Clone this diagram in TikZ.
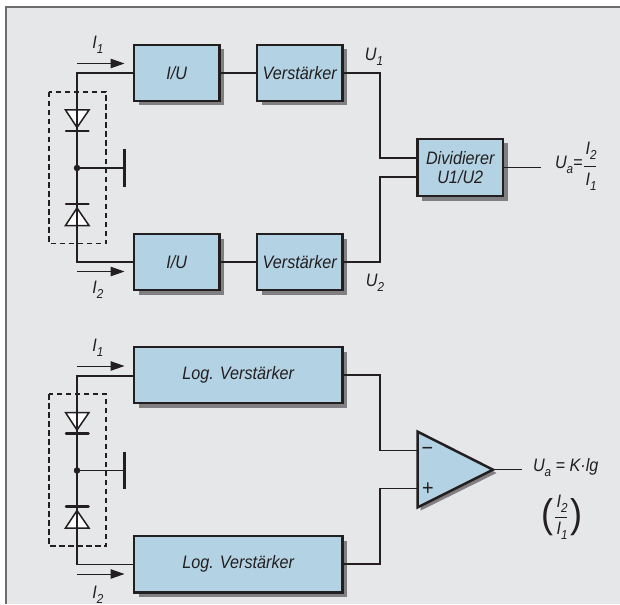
\documentclass[tikz,border=0pt]{standalone}
\usepackage{fontspec}
\setmainfont[FakeStretch=0.9]{Liberation Sans}
\usetikzlibrary{arrows.meta}
\definecolor{panel}{RGB}{229,231,233}
\definecolor{boxblue}{RGB}{179,210,227}
\definecolor{ink}{RGB}{35,31,32}
\definecolor{shadowgray}{RGB}{128,128,130}
\newcommand{\subs}[1]{\raisebox{-0.28em}{\fontsize{13}{13}\selectfont #1}}
\tikzset{
  x=1pt,y=-1pt,
  wire/.style={draw=ink,line width=1.5pt,line join=miter},
  blockbox/.style={draw=ink,line width=2.5pt,fill=boxblue,rectangle,inner sep=0pt,outer sep=0pt,align=center,font=\itshape\fontsize{18}{19}\selectfont,text=ink},
  lab/.style={inner sep=0pt,outer sep=0pt,text=ink,font=\itshape\fontsize{18}{19}\selectfont},
  curarrow/.style={draw=ink,line width=1pt,-{Triangle[length=14pt,width=9.5pt]}},
  diodeshape/.style={draw=ink,line width=1.5pt,fill=white,line join=miter},
  bar/.style={draw=ink,line width=2.5pt,line cap=round},
  gnd/.style={draw=ink,line width=2.5pt},
  dashbox/.style={draw=ink,line width=1.3pt,dash pattern=on 5.5pt off 3.5pt},
  junction/.style={circle,fill=ink,inner sep=0pt,minimum size=6.5pt},
  fracbar/.style={draw=ink,line width=1pt},
  opsign/.style={inner sep=0pt,text=ink,font=\fontsize{22}{22}\selectfont},
  paren/.style={inner sep=0pt,outer sep=0pt,text=ink,font=\fontsize{40}{40}\selectfont}
}
\newcommand{\block}[6]{% name, x1,y1,x2,y2,text
  \fill[shadowgray] (#2+4.5,#3+4.5) rectangle (#4+4.5,#5+4.5);
  \node[blockbox,minimum width=#4-#2,minimum height=#5-#3,anchor=north west] (#1) at (#2,#3) {#6};
}
\begin{document}
\begin{tikzpicture}
\useasboundingbox (0,0) rectangle (620,604);
\fill[white] (0,0) rectangle (620,604);
\fill[panel] (6,7) rectangle (620,604);
\draw[draw=shadowgray!85!black,line width=1.3pt] (6,604) -- (6,7) -- (620,7);
% top circuit
\coordinate (t1) at (77,73);
\coordinate (t2) at (77,262);
\coordinate (tj) at (77,168);
\coordinate (tg) at (124.5,168);
\draw[dashbox] (49,92) rectangle (106,243.5);
\block{iu1}{134}{45}{219.5}{101}{I/U}
\block{iu2}{134}{234}{219.5}{290}{I/U}
\block{v1}{257}{45}{342.5}{101}{Verstärker}
\block{v2}{257}{234}{342.5}{290}{Verstärker}
\block{dv}{417.5}{139}{503}{196}{Dividierer\\U1/U2}
\draw[wire] (iu1.west) -- (t1) -- (t2) -- (iu2.west);
\draw[wire] (tj) -- (tg);
\draw[gnd] (124.5,149.5) -- (124.5,186.5);
\node[junction] at (tj) {};
\draw[diodeshape] (65.5,110) -- (89,110) -- (77,127.5) -- cycle;
\draw[wire] (77,110) -- (77,127.5);
\draw[bar] (66,131) -- (88.5,131);
\draw[diodeshape] (65.5,225.5) -- (89,225.5) -- (77,208) -- cycle;
\draw[wire] (77,208) -- (77,225.5);
\draw[bar] (66,204) -- (88.5,204);
\coordinate (a1) at (77,63.5); \coordinate (a1e) at (124.5,63.5);
\coordinate (a2) at (77,271.5); \coordinate (a2e) at (124.5,271.5);
\draw[curarrow] (a1) -- (a1e);
\draw[curarrow] (a2) -- (a2e);
\node[lab] (li1) at (98,45) {I\subs{1}};
\node[lab] (li2) at (98,290) {I\subs{2}};
\draw[wire] (iu1.east) -- (v1.west);
\draw[wire] (iu2.east) -- (v2.west);
\coordinate (c1) at (380,73);
\coordinate (c2) at (380,262);
\draw[wire] (v1.east) -- (c1) -- (380,158) -- (417.5,158);
\draw[wire] (v2.east) -- (c2) -- (380,177) -- (417.5,177);
\coordinate (dout) at (541,167.5);
\draw[wire] (dv.east) -- (dout);
\node[lab] (lu1) at (374,57) {U\subs{1}};
\node[lab] (lu2) at (375,283) {U\subs{2}};
\node[lab,anchor=west] (lua) at (555,165) {U\subs{a}=};
\node[lab] (lf1) at (591,151) {I\subs{2}};
\draw[fracbar] (584,166) -- (596,166);
\node[lab] (lf2) at (591,182) {I\subs{1}};
% bottom circuit
\coordinate (b1) at (77,376);
\coordinate (b2) at (77,564.5);
\coordinate (bj) at (77,470.5);
\coordinate (bg) at (124.5,470.5);
\draw[dashbox] (49,394) rectangle (106,546);
\block{lv1}{134}{347}{342.5}{403}{Log. Verstärker}
\block{lv2}{134}{536}{342.5}{592.5}{Log. Verstärker}
\draw[wire] (lv1.west |- b1) -- (b1) -- (b2) -- (lv2.west |- b2);
\draw[wire] (bj) -- (bg);
\draw[gnd] (124.5,451.5) -- (124.5,489);
\node[junction] at (bj) {};
\draw[diodeshape] (65.5,412.5) -- (89,412.5) -- (77,430) -- cycle;
\draw[wire] (77,412.5) -- (77,430);
\draw[bar] (66,433.5) -- (88.5,433.5);
\draw[diodeshape] (65.5,528) -- (89,528) -- (77,510.5) -- cycle;
\draw[wire] (77,510.5) -- (77,528);
\draw[bar] (66,506.5) -- (88.5,506.5);
\coordinate (a3) at (77,366); \coordinate (a3e) at (124.5,366);
\coordinate (a4) at (77,574); \coordinate (a4e) at (124.5,574);
\draw[curarrow] (a3) -- (a3e);
\draw[curarrow] (a4) -- (a4e);
\node[lab] (li3) at (98,348) {I\subs{1}};
\node[lab] (li4) at (98,595) {I\subs{2}};
\fill[shadowgray] (420.7,435) -- (420.7,510.5) -- (496.5,473) -- cycle;
\draw[draw=ink,line width=2.5pt,fill=boxblue,line join=miter] (417.7,431.7) -- (417.7,507.3) -- (493,469.7) -- cycle;
\coordinate (opo) at (493,469.7);
\coordinate (opm) at (417.7,450.5);
\coordinate (opp) at (417.7,488.5);
\draw[wire] (lv1.east) -- (380,375) -- (380,450.5) -- (opm);
\draw[wire] (lv2.east |- 0,564) -- (380,564) -- (380,488.5) -- (opp);
\coordinate (oout) at (522,469.7);
\draw[wire] (opo) -- (oout);
\node[opsign] (mi) at (427.5,451) {−};
\node[opsign] (pl) at (428,489) {+};
\node[lab,anchor=west] (lk) at (533,468) {U\subs{a} = K·lg};
\node[paren] (lpl) at (547,517) {(};
\node[paren] (lpr) at (576,517) {)};
\node[lab] (lf3) at (562,504) {I\subs{2}};
\draw[fracbar] (555,517) -- (566.5,517);
\node[lab] (lf4) at (562,531) {I\subs{1}};
\end{tikzpicture}
\end{document}
